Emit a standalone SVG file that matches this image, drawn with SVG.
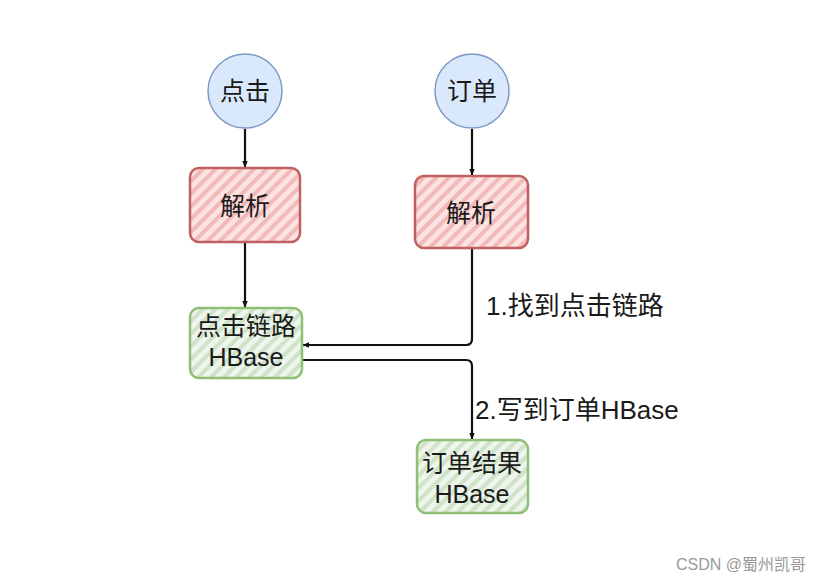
<svg xmlns="http://www.w3.org/2000/svg" width="828" height="581" viewBox="0 0 828 581">
<style>
text{font-family:"Liberation Sans","Noto Sans CJK SC",sans-serif;fill:#1a1a1a;text-anchor:middle}
.lbl{font-size:25px}
.el{font-size:26px;text-anchor:start}
.edge{fill:none;stroke:#111;stroke-width:2.2}
.circ{fill:#dae8fc;stroke:#7e9ac4;stroke-width:1.5}
.red{fill:url(#hr);stroke:#c06060;stroke-width:2.5}
.green{fill:url(#hg);stroke:#8fbf75;stroke-width:2.5}
</style>
<defs>
<pattern id="hr" patternUnits="userSpaceOnUse" width="9" height="9" patternTransform="rotate(45)">
<rect width="9" height="9" fill="#fbe3e2"/>
<rect width="4" height="9" fill="#f3b9b8"/>
</pattern>
<pattern id="hg" patternUnits="userSpaceOnUse" width="9" height="9" patternTransform="rotate(45)">
<rect width="9" height="9" fill="#eef5ec"/>
<rect width="4" height="9" fill="#cfe3c8"/>
</pattern>
<marker id="ah" viewBox="0 0 10 10" refX="9" refY="5" markerWidth="7" markerHeight="7" orient="auto" markerUnits="userSpaceOnUse">
<path d="M0,1 L10,5 L0,9 Z" fill="#111"/>
</marker>
</defs>
<rect width="828" height="581" fill="#fff"/>
<g id="connectors">
<path class="edge" d="M245,129 V167" marker-end="url(#ah)"/>
<path class="edge" d="M472,129 V175" marker-end="url(#ah)"/>
<path class="edge" d="M245,243 V307" marker-end="url(#ah)"/>
<path class="edge" d="M472,249 V339 Q472,345 466,345 H303" marker-end="url(#ah)"/>
<path class="edge" d="M303,360 H466 Q472,360 472,366 V439" marker-end="url(#ah)"/>
<text class="el" x="486" y="315">1.找到点击链路</text>
<text class="el" x="475" y="419">2.写到订单HBase</text>
</g>
<g id="n1"><circle class="circ" cx="245" cy="91" r="37"/><text class="lbl" x="245" y="100">点击</text></g>
<g id="n2"><circle class="circ" cx="472" cy="91" r="37"/><text class="lbl" x="472" y="100">订单</text></g>
<g id="n3"><rect class="red" x="190" y="168" width="110" height="74" rx="9"/><text class="lbl" x="245" y="215">解析</text></g>
<g id="n4"><rect class="red" x="415" y="176" width="113" height="72" rx="9"/><text class="lbl" x="471" y="222">解析</text></g>
<g id="n5"><rect class="green" x="190" y="308" width="112" height="70" rx="9"/><text class="lbl" x="246" y="335">点击链路</text><text class="lbl" x="246" y="366">HBase</text></g>
<g id="n6"><rect class="green" x="417" y="440" width="111" height="73" rx="9"/><text class="lbl" x="472" y="472">订单结果</text><text class="lbl" x="472" y="503">HBase</text></g>
<text x="676" y="570" style="font-size:16px;fill:#999;text-anchor:start">CSDN @蜀州凯哥</text>
</svg>
